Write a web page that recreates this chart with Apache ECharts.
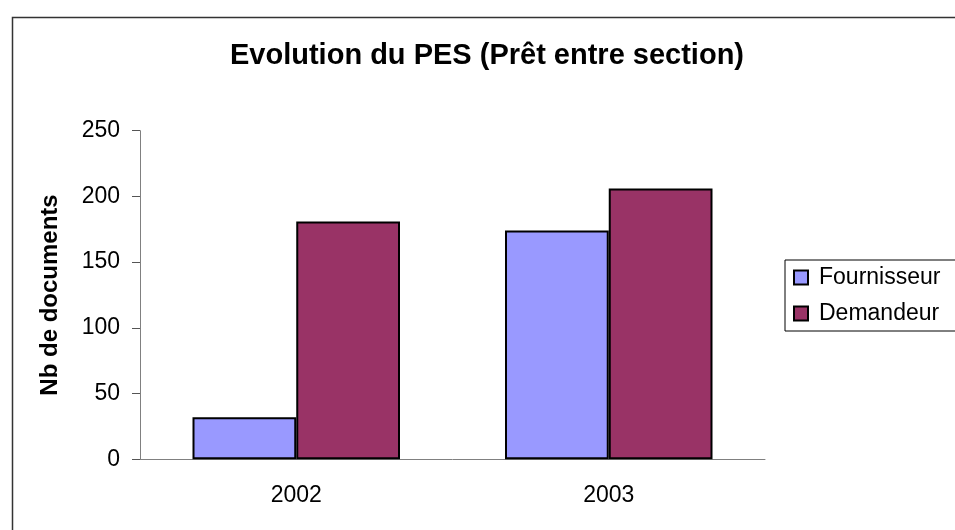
<!DOCTYPE html>
<html>
<head>
<meta charset="utf-8">
<script src="https://cdn.jsdelivr.net/npm/echarts@6/dist/echarts.min.js"></script>
<style>
html,body{margin:0;padding:0;background:#fff;}
#c{width:955px;height:530px;}
</style>
</head>
<body>
<div id="c"></div>
<script>
var categories = ['2002', '2003'];
var fournisseur = [32, 174];
var demandeur = [181, 206];
var yTicks = [0, 50, 100, 150, 200, 250];

var chart = echarts.init(document.getElementById('c'), null, {renderer: 'canvas'});
var font = '"Liberation Sans", Arial, sans-serif';
chart.setOption({
  animation: false,
  backgroundColor: '#fff',
  title: {
    text: 'Evolution du PES (Prêt entre section)',
    left: 482, top: 36, textAlign: 'center',
    textStyle: {fontFamily: font, fontSize: 29, fontWeight: 'bold', color: '#000'}
  },
  graphic: [{
    type: 'rect', left: 10, top: 15, z: -1,
    shape: {width: 960, height: 540},
    style: {fill: 'none', stroke: '#333', lineWidth: 1.5}
  }],
  legend: {
    orient: 'vertical',
    left: 785, top: 260,
    padding: [6, 30, 6, 8],
    itemGap: 13,
    itemWidth: 14, itemHeight: 14,
    icon: 'rect',
    borderColor: '#000', borderWidth: 1,
    textStyle: {fontFamily: font, fontSize: 23, lineHeight: 23, color: '#000', padding: [0, 0, 0, 6]},
    data: ['Fournisseur', 'Demandeur']
  },
  grid: {left: 140, top: 130.7, right: 190, bottom: 70.7},
  xAxis: {
    type: 'category',
    data: categories,
    axisLine: {lineStyle: {color: '#808080', width: 1}},
    axisTick: {length: 8, lineStyle: {color: '#555'}},
    axisLabel: {fontFamily: font, fontSize: 23, color: '#000', margin: 25}
  },
  yAxis: {
    type: 'value',
    min: yTicks[0], max: yTicks[yTicks.length - 1], interval: 50,
    name: 'Nb de documents',
    nameLocation: 'middle', nameGap: 78, nameRotate: 90,
    nameTextStyle: {fontFamily: font, fontSize: 24, fontWeight: 'bold', color: '#000'},
    axisLine: {show: true, lineStyle: {color: '#808080', width: 1}},
    axisTick: {show: true, length: 8, lineStyle: {color: '#555'}},
    splitLine: {show: false},
    axisLabel: {fontFamily: font, fontSize: 23, color: '#000', margin: 20}
  },
  series: [{
    name: 'Fournisseur', type: 'bar', data: fournisseur,
    barGap: '0%', barCategoryGap: '33.6%',
    itemStyle: {color: '#9999FF', borderColor: '#000', borderWidth: 2}
  }, {
    name: 'Demandeur', type: 'bar', data: demandeur,
    barGap: '0%', barCategoryGap: '33.6%',
    itemStyle: {color: '#993366', borderColor: '#000', borderWidth: 2}
  }]
});
</script>
</body>
</html>
